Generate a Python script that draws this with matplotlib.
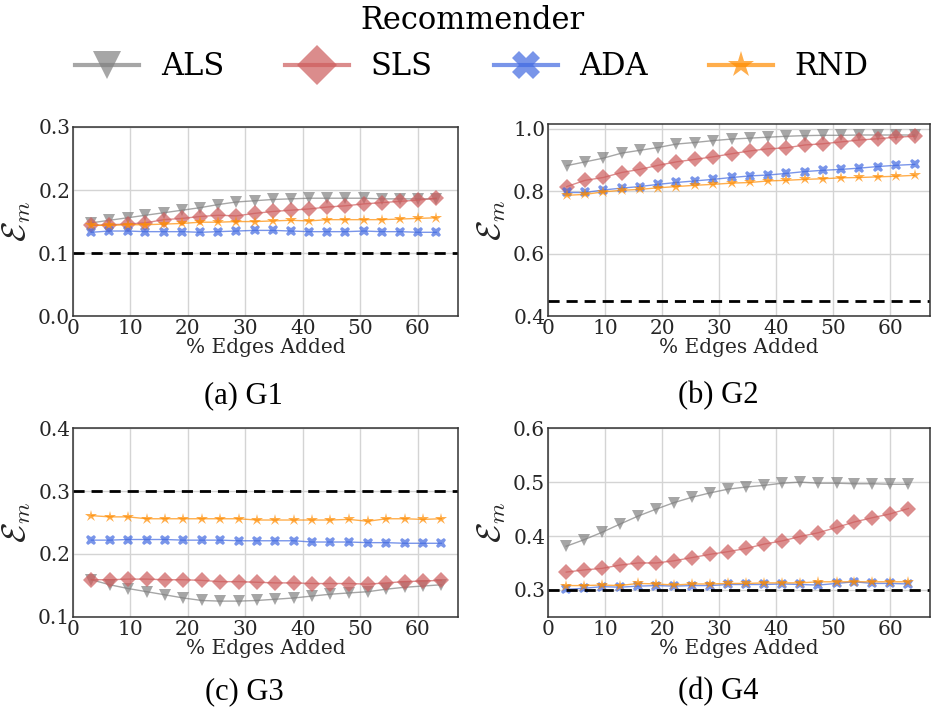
import matplotlib
matplotlib.use("Agg")
import matplotlib.pyplot as plt
from matplotlib.lines import Line2D

plt.rcParams['font.family'] = ['DejaVu Serif']
plt.rcParams['mathtext.fontset'] = 'cm'

# x positions (% edges added)
x_g1 = [3.2, 6.3, 9.5, 12.6, 15.8, 19.0, 22.1, 25.3, 28.4, 31.6,
        34.8, 37.9, 41.1, 44.2, 47.4, 50.6, 53.7, 56.9, 60.0, 63.2]
x_g2 = [3.3, 6.5, 9.7, 12.9, 16.1, 19.3, 22.5, 25.7, 28.9, 32.2,
        35.4, 38.6, 41.8, 45.0, 48.2, 51.4, 54.6, 57.8, 61.0, 64.3]
x_g3 = [3.2, 6.4, 9.6, 12.8, 16.0, 19.2, 22.4, 25.6, 28.8, 32.0,
        35.2, 38.4, 41.6, 44.8, 48.0, 51.3, 54.5, 57.7, 60.9, 64.1]
x_g4 = [3.2, 6.3, 9.5, 12.6, 15.8, 19.0, 22.1, 25.3, 28.4, 31.6,
        34.8, 37.9, 41.1, 44.2, 47.4, 50.6, 53.7, 56.9, 60.0, 63.2]

# G1
als_g1 = [0.148, 0.152, 0.156, 0.160, 0.164, 0.168, 0.172, 0.177, 0.181, 0.183,
          0.185, 0.186, 0.187, 0.187, 0.187, 0.187, 0.186, 0.186, 0.186, 0.186]
sls_g1 = [0.144, 0.145, 0.146, 0.148, 0.153, 0.155, 0.158, 0.160, 0.159, 0.163,
          0.166, 0.168, 0.170, 0.173, 0.175, 0.178, 0.180, 0.182, 0.184, 0.187]
ada_g1 = [0.133, 0.135, 0.135, 0.134, 0.134, 0.134, 0.133, 0.134, 0.135, 0.136,
          0.136, 0.135, 0.134, 0.134, 0.134, 0.135, 0.134, 0.134, 0.133, 0.133]
rnd_g1 = [0.144, 0.144, 0.145, 0.145, 0.146, 0.147, 0.149, 0.149, 0.150, 0.150,
          0.151, 0.152, 0.151, 0.153, 0.153, 0.153, 0.153, 0.154, 0.155, 0.156]

# G2
als_g2 = [0.882, 0.894, 0.906, 0.922, 0.931, 0.940, 0.951, 0.956, 0.962, 0.967,
          0.970, 0.973, 0.976, 0.978, 0.979, 0.979, 0.980, 0.980, 0.980, 0.980]
sls_g2 = [0.815, 0.835, 0.844, 0.860, 0.870, 0.883, 0.894, 0.902, 0.910, 0.920,
          0.929, 0.936, 0.939, 0.948, 0.952, 0.958, 0.964, 0.968, 0.973, 0.976]
ada_g2 = [0.796, 0.796, 0.804, 0.810, 0.815, 0.822, 0.828, 0.833, 0.838, 0.844,
          0.849, 0.852, 0.857, 0.863, 0.867, 0.870, 0.874, 0.879, 0.883, 0.886]
rnd_g2 = [0.787, 0.790, 0.798, 0.803, 0.806, 0.811, 0.815, 0.819, 0.822, 0.826,
          0.828, 0.833, 0.835, 0.838, 0.840, 0.843, 0.844, 0.846, 0.848, 0.851]

# G3
als_g3 = [0.159, 0.151, 0.145, 0.140, 0.135, 0.130, 0.126, 0.125, 0.125, 0.126,
          0.128, 0.130, 0.133, 0.136, 0.138, 0.140, 0.144, 0.147, 0.149, 0.151]
sls_g3 = [0.159, 0.159, 0.160, 0.160, 0.159, 0.159, 0.158, 0.156, 0.156, 0.155,
          0.154, 0.154, 0.153, 0.153, 0.153, 0.152, 0.154, 0.156, 0.157, 0.158]
ada_g3 = [0.222, 0.222, 0.223, 0.223, 0.223, 0.222, 0.222, 0.222, 0.221, 0.221,
          0.221, 0.221, 0.219, 0.219, 0.219, 0.218, 0.218, 0.217, 0.217, 0.217]
rnd_g3 = [0.261, 0.259, 0.259, 0.256, 0.256, 0.256, 0.256, 0.256, 0.256, 0.254,
          0.254, 0.254, 0.254, 0.254, 0.255, 0.252, 0.256, 0.256, 0.255, 0.256]

# G4
als_g4 = [0.381, 0.393, 0.407, 0.422, 0.437, 0.450, 0.462, 0.472, 0.480, 0.487,
          0.491, 0.494, 0.498, 0.500, 0.498, 0.498, 0.497, 0.497, 0.496, 0.496]
sls_g4 = [0.333, 0.337, 0.340, 0.346, 0.350, 0.350, 0.354, 0.360, 0.366, 0.371,
          0.377, 0.385, 0.391, 0.399, 0.406, 0.416, 0.426, 0.434, 0.441, 0.451]
ada_g4 = [0.301, 0.303, 0.306, 0.305, 0.307, 0.308, 0.307, 0.308, 0.308, 0.310,
          0.310, 0.310, 0.311, 0.310, 0.309, 0.312, 0.315, 0.312, 0.312, 0.311]
rnd_g4 = [0.308, 0.308, 0.309, 0.308, 0.312, 0.311, 0.309, 0.311, 0.311, 0.312,
          0.312, 0.313, 0.313, 0.313, 0.315, 0.315, 0.315, 0.315, 0.315, 0.315]

baselines = [0.1, 0.45, 0.3, 0.3]
ylims = [(0.0, 0.3), (0.4, 1.015), (0.1, 0.4), (0.25, 0.6)]
yticks = [[0.0, 0.1, 0.2, 0.3], [0.4, 0.6, 0.8, 1.0],
          [0.1, 0.2, 0.3, 0.4], [0.3, 0.4, 0.5, 0.6]]
captions = ['(a) G1', '(b) G2', '(c) G3', '(d) G4']

names = ['ALS', 'SLS', 'ADA', 'RND']
colors = ['grey', 'indianred', 'royalblue', 'darkorange']
markers = ['v', 'D', 'X', '*']
msizes = [8, 8.5, 7.5, 9]

panels = [
    (x_g1, [als_g1, sls_g1, ada_g1, rnd_g1]),
    (x_g2, [als_g2, sls_g2, ada_g2, rnd_g2]),
    (x_g3, [als_g3, sls_g3, ada_g3, rnd_g3]),
    (x_g4, [als_g4, sls_g4, ada_g4, rnd_g4]),
]

fig = plt.figure(figsize=(9.31, 7.09), dpi=100)
rects = [
    [0.0784, 0.554, 0.4136, 0.267],
    [0.5886, 0.554, 0.4104, 0.271],
    [0.0784, 0.130, 0.4136, 0.266],
    [0.5886, 0.130, 0.4104, 0.266],
]
cap_pos = [(0.262, 0.442), (0.771, 0.442), (0.263, 0.024), (0.772, 0.024)]

for i, (xs, series) in enumerate(panels):
    ax = fig.add_axes(rects[i])
    ax.grid(True, color='#d4d4d4', linewidth=1)
    ax.set_axisbelow(True)
    for s, ys in enumerate(series):
        ax.plot(xs, ys, color=colors[s], marker=markers[s], markersize=msizes[s],
                linewidth=1, alpha=0.7, markeredgewidth=0)
    ax.axhline(baselines[i], color='black', linestyle='--', linewidth=2,
               dashes=(4, 2.5))
    ax.set_xlim(0, 67)
    ax.set_ylim(*ylims[i])
    ax.set_xticks([0, 10, 20, 30, 40, 50, 60])
    ax.set_yticks(yticks[i])
    ax.set_yticklabels(['%.1f' % t for t in yticks[i]])
    ax.tick_params(length=0, labelsize=14.5, pad=2, colors='#262626')
    for sp in ax.spines.values():
        sp.set_color('#333333')
        sp.set_linewidth(1.1)
    ax.set_xlabel('% Edges Added', fontsize=14.5, color='#262626', labelpad=0)
    ax.set_ylabel(r'$\mathcal{E}_m$', fontsize=24, color='#262626', labelpad=4)
    fig.text(cap_pos[i][0], cap_pos[i][1], captions[i], ha='center', va='center',
             fontsize=22, family='Liberation Serif')

handles = [Line2D([0], [0], color=colors[s], marker=markers[s], markersize=20,
                  linewidth=3, alpha=0.7, markeredgewidth=0) for s in range(4)]
leg = fig.legend(handles, names, loc='upper center', bbox_to_anchor=(0.507, 1.01),
                 ncol=4, frameon=False, fontsize=22, title='Recommender',
                 title_fontsize=22, handlelength=2.1, handletextpad=0.7,
                 columnspacing=2.0, borderaxespad=0)

fig.savefig('out.png', dpi=100)
